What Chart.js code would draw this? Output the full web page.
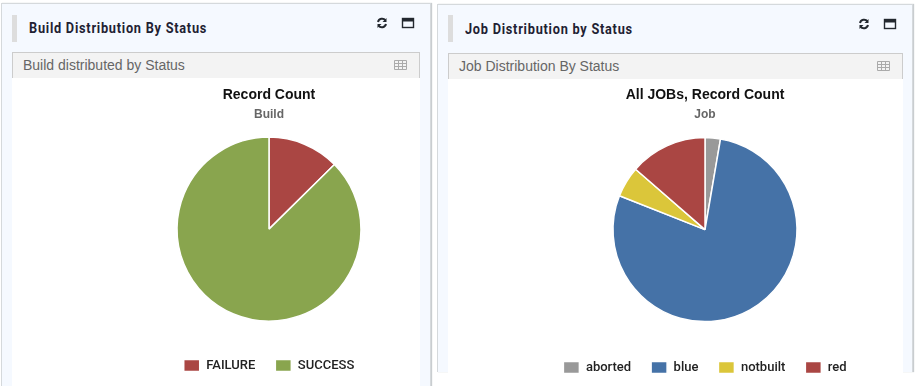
<!DOCTYPE html>
<html>
<head>
<meta charset="utf-8">
<script src="https://cdn.jsdelivr.net/npm/chart.js@4"></script>
<style>
    html, body { margin: 0; padding: 0; background: #fff; overflow: hidden; width: 917px; height: 386px; }
    .panel { position: absolute; box-sizing: border-box; background: #f5f9ff; border: 1px solid #d5d9dc; border-bottom: none; box-shadow: 1px 0 1px #c9cdd0; }
    .mark { position: absolute; background: #dddddd; width: 5px; height: 27px; }
    .title { position: absolute; font: bold 15px Roboto, sans-serif; color: #1f2233; letter-spacing: 0.88px; white-space: nowrap; transform-origin: left top; transform: scaleX(0.85); }
    .head { position: absolute; box-sizing: border-box; height: 27px; background: #f3f3f3; border: 1px solid #ccc; font: 14px "Liberation Sans", sans-serif; color: #666; line-height: 25px; padding-left: 10px; }
    .body { position: absolute; background: #fff; }
    canvas { position: absolute; }
    svg { position: absolute; }
</style>
</head>
<body>
<div class="panel" style="left:1px;top:3px;width:430px;height:390px"></div>
<div class="mark" style="left:12px;top:15px"></div>
<div class="title" style="left:29px;top:19px">Build Distribution By Status</div>
<div class="head" style="left:12px;top:52px;width:408px">Build distributed by Status</div>
<div class="body" style="left:12px;top:78px;width:408px;height:308px"></div>

<div class="panel" style="left:437px;top:4px;width:476px;height:368px"></div>
<div class="mark" style="left:448px;top:15px"></div>
<div class="title" style="left:465px;top:20px">Job Distribution by Status</div>
<div class="head" style="left:448px;top:53px;width:455px">Job Distribution By Status</div>
<div class="body" style="left:448px;top:79px;width:455px;height:307px"></div>

<svg style="left:0;top:0" width="917" height="386" fill="none">
    <g id="icons"></g>
</svg>

<canvas id="buildChart" style="left:118px;top:79px" width="302" height="307"></canvas>
<canvas id="jobChart" style="left:508px;top:79px" width="394" height="307"></canvas>

<script>
const buildLabels = ["FAILURE", "SUCCESS"];
const buildValues = [12.6, 87.4];
const buildColors = ["#aa4643", "#89a54e"];

const jobLabels = ["aborted", "blue", "notbuilt", "red"];
const jobValues = [2.7, 78.3, 5.4, 13.6];
const jobColors = ["#999999", "#4572a7", "#dbc63a", "#aa4643"];

// header icons, same drawing for both panels
const drawIcons = (refreshX, boxX, y) => {
    const g = document.getElementById("icons");
    g.innerHTML += `
        <path d="M${refreshX - 4} ${y - 1}a4.2 4.2 0 0 1 7.5 -1.5M${refreshX + 4} ${y + 1}a4.2 4.2 0 0 1 -7.5 1.5" stroke="#23282f" stroke-width="2"/>
        <path d="M${refreshX + 4.5} ${y - 5}v4h-4zM${refreshX - 4.5} ${y + 5}v-4h4z" fill="#23282f"/>
        <rect x="${boxX - 5.5}" y="${y - 4.5}" width="11" height="9" stroke="#23282f" stroke-width="1.4"/>
        <rect x="${boxX - 5.5}" y="${y - 4.5}" width="11" height="3" fill="#23282f"/>`;
};

const drawTableIcon = (x, y) => {
    const g = document.getElementById("icons");
    g.innerHTML += `
        <path d="M${x + 0.5} ${y + 0.5}h12v9h-12zM${x + 0.5} ${y + 3.5}h12M${x + 0.5} ${y + 6.5}h12M${x + 4.5} ${y + 0.5}v9M${x + 8.5} ${y + 0.5}v9" stroke="#aaa"/>`;
};

drawIcons(382, 408, 23);
drawIcons(864, 890, 24);
drawTableIcon(394, 60);
drawTableIcon(877, 61);

const drawPie = (id, labels, values, colors, titleText, subtitleText, subGap, padBottom) => {
    new Chart(document.getElementById(id), {
        type: "pie",
        data: {
            labels: labels,
            datasets: [{
                data: values,
                backgroundColor: colors,
                borderColor: "#ffffff",
                borderWidth: 1.5,
                radius: 92,
            }],
        },
        options: {
            responsive: false,
            animation: false,
            layout: { padding: { top: 8, bottom: padBottom } },
            plugins: {
                tooltip: { enabled: false },
                title: {
                    display: true,
                    text: titleText,
                    color: "#111",
                    font: { family: "Liberation Sans", size: 14, weight: "bold" },
                    padding: { top: 0, bottom: 4 },
                },
                subtitle: {
                    display: true,
                    text: subtitleText,
                    color: "#666",
                    font: { family: "Liberation Sans", size: 12, weight: "bold" },
                    padding: { top: 0, bottom: subGap },
                },
                legend: {
                    position: "bottom",
                    labels: {
                        boxWidth: 16,
                        boxHeight: 12,
                        padding: 20,
                        color: "#222",
                        font: { family: "Roboto", size: 13, weight: "500" },
                    },
                },
            },
        },
    });
};

drawPie("buildChart", buildLabels, buildValues, buildColors, "Record Count", "Build", -3, 4);
drawPie("jobChart", jobLabels, jobValues, jobColors, "All JOBs, Record Count", "Job", -4, 2);
</script>
</body>
</html>
